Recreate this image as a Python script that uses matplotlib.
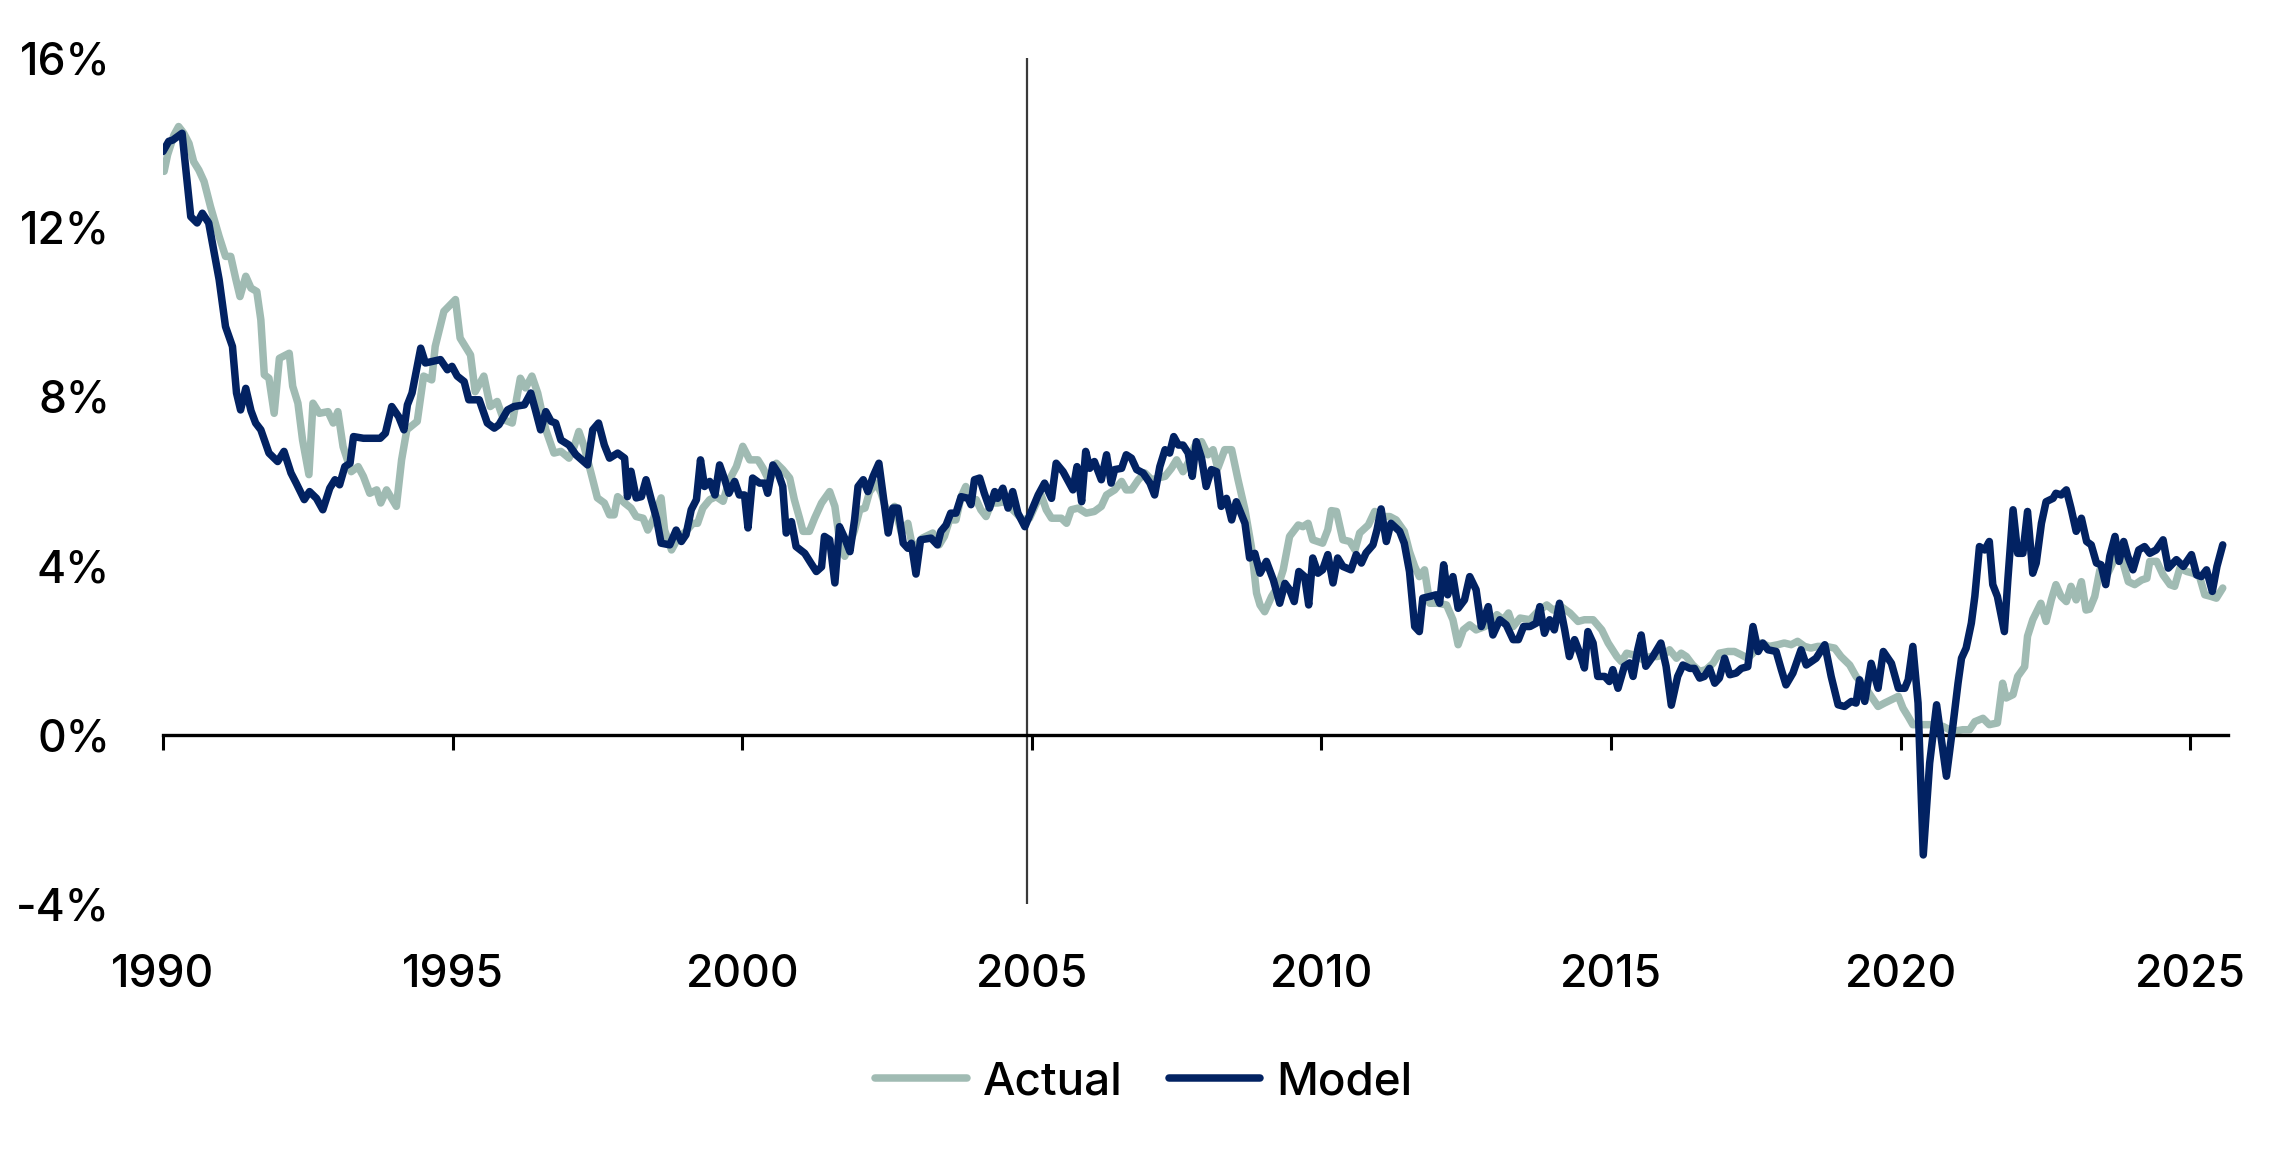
import matplotlib
matplotlib.use("Agg")
import matplotlib.pyplot as plt
import numpy as np

plt.rcParams['font.family'] = ['Inter', 'DejaVu Sans']
plt.rcParams['font.weight'] = 'medium'

# values (decimal year, percent)
model_t = [1990.00, 1990.10, 1990.17, 1990.33, 1990.48, 1990.59, 1990.68, 1990.79, 1990.97, 1991.08,
           1991.20, 1991.27, 1991.34, 1991.43, 1991.52, 1991.60, 1991.69, 1991.83, 1991.98, 1992.09,
           1992.21, 1992.30, 1992.44, 1992.53, 1992.65, 1992.76, 1992.88, 1992.97, 1993.05, 1993.14,
           1993.23, 1993.29, 1993.46, 1993.75, 1993.84, 1993.95, 1994.07, 1994.16, 1994.22, 1994.30,
           1994.39, 1994.45, 1994.53, 1994.79, 1994.91, 1994.99, 1995.08, 1995.20, 1995.28, 1995.46,
           1995.60, 1995.72, 1995.80, 1995.95, 1996.06, 1996.24, 1996.35, 1996.43, 1996.52, 1996.61,
           1996.70, 1996.78, 1996.87, 1997.01, 1997.13, 1997.33, 1997.42, 1997.52, 1997.62, 1997.71,
           1997.85, 1997.97, 1998.02, 1998.08, 1998.17, 1998.26, 1998.34, 1998.43, 1998.52, 1998.60,
           1998.75, 1998.86, 1998.95, 1999.03, 1999.12, 1999.21, 1999.28, 1999.35, 1999.44, 1999.53,
           1999.61, 1999.70, 1999.77, 1999.87, 1999.95, 2000.04, 2000.10, 2000.18, 2000.30, 2000.39,
           2000.44, 2000.53, 2000.62, 2000.70, 2000.76, 2000.85, 2000.93, 2001.08, 2001.19, 2001.28,
           2001.37, 2001.42, 2001.51, 2001.60, 2001.68, 2001.77, 2001.86, 2001.94, 2002.00, 2002.09,
           2002.17, 2002.26, 2002.36, 2002.52, 2002.60, 2002.69, 2002.78, 2002.86, 2002.92, 2003.00,
           2003.08, 2003.26, 2003.37, 2003.43, 2003.52, 2003.60, 2003.69, 2003.78, 2003.90, 2003.95,
           2004.01, 2004.10, 2004.18, 2004.27, 2004.36, 2004.41, 2004.50, 2004.59, 2004.67, 2004.76,
           2004.88, 2004.99, 2005.11, 2005.22, 2005.34, 2005.42, 2005.54, 2005.63, 2005.71, 2005.78,
           2005.86, 2005.93, 2006.00, 2006.08, 2006.20, 2006.29, 2006.37, 2006.43, 2006.55, 2006.63,
           2006.72, 2006.81, 2006.92, 2007.04, 2007.12, 2007.21, 2007.30, 2007.38, 2007.45, 2007.53,
           2007.61, 2007.70, 2007.77, 2007.84, 2007.93, 2008.01, 2008.10, 2008.19, 2008.27, 2008.36,
           2008.45, 2008.53, 2008.68, 2008.76, 2008.85, 2008.94, 2009.05, 2009.17, 2009.28, 2009.37,
           2009.45, 2009.53, 2009.61, 2009.71, 2009.78, 2009.85, 2009.94, 2010.02, 2010.11, 2010.20,
           2010.28, 2010.37, 2010.51, 2010.60, 2010.69, 2010.77, 2010.89, 2010.96, 2011.03, 2011.12,
           2011.20, 2011.35, 2011.43, 2011.52, 2011.61, 2011.69, 2011.75, 2011.87, 2011.98, 2012.04,
           2012.11, 2012.18, 2012.27, 2012.36, 2012.47, 2012.56, 2012.67, 2012.76, 2012.88, 2012.96,
           2013.08, 2013.19, 2013.31, 2013.40, 2013.49, 2013.60, 2013.71, 2013.77, 2013.85, 2013.94,
           2014.02, 2014.11, 2014.20, 2014.28, 2014.37, 2014.46, 2014.54, 2014.60, 2014.69, 2014.77,
           2014.89, 2014.97, 2015.03, 2015.12, 2015.23, 2015.32, 2015.38, 2015.46, 2015.52, 2015.60,
           2015.72, 2015.86, 2015.95, 2016.04, 2016.15, 2016.24, 2016.36, 2016.44, 2016.53, 2016.61,
           2016.70, 2016.79, 2016.87, 2016.96, 2017.05, 2017.16, 2017.25, 2017.36, 2017.45, 2017.54,
           2017.62, 2017.71, 2017.85, 2017.94, 2018.02, 2018.14, 2018.28, 2018.37, 2018.54, 2018.69,
           2018.80, 2018.92, 2019.03, 2019.15, 2019.23, 2019.29, 2019.38, 2019.49, 2019.61, 2019.70,
           2019.84, 2019.96, 2020.07, 2020.13, 2020.21, 2020.30, 2020.39, 2020.50, 2020.62, 2020.79,
           2020.90, 2020.99, 2021.05, 2021.13, 2021.22, 2021.28, 2021.36, 2021.45, 2021.53, 2021.59,
           2021.67, 2021.79, 2021.85, 2021.94, 2022.02, 2022.11, 2022.19, 2022.28, 2022.34, 2022.43,
           2022.51, 2022.63, 2022.68, 2022.77, 2022.86, 2022.94, 2023.03, 2023.12, 2023.21, 2023.29,
           2023.38, 2023.46, 2023.54, 2023.61, 2023.70, 2023.77, 2023.85, 2023.92, 2024.01, 2024.11,
           2024.21, 2024.30, 2024.41, 2024.53, 2024.62, 2024.76, 2024.88, 2025.02, 2025.11, 2025.19,
           2025.28, 2025.38, 2025.46, 2025.56]
model_v = [13.79, 14.03, 14.06, 14.22, 12.25, 12.10, 12.33, 12.10, 10.76, 9.65,
           9.18, 8.08, 7.68, 8.19, 7.66, 7.37, 7.21, 6.66, 6.46, 6.70,
           6.19, 5.95, 5.56, 5.75, 5.59, 5.32, 5.83, 6.03, 5.91, 6.34,
           6.42, 7.05, 7.01, 7.01, 7.13, 7.76, 7.52, 7.21, 7.80, 8.08,
           8.71, 9.14, 8.79, 8.87, 8.63, 8.71, 8.48, 8.35, 7.92, 7.92,
           7.37, 7.25, 7.33, 7.68, 7.76, 7.80, 8.08, 7.68, 7.21, 7.64,
           7.41, 7.37, 6.97, 6.85, 6.62, 6.38, 7.21, 7.37, 6.85, 6.54,
           6.66, 6.54, 5.63, 6.23, 5.60, 5.63, 6.03, 5.56, 5.12, 4.53,
           4.49, 4.84, 4.57, 4.73, 5.32, 5.56, 6.50, 5.87, 5.99, 5.67,
           6.38, 6.03, 5.71, 5.99, 5.67, 5.67, 4.89, 6.07, 5.95, 5.95,
           5.71, 6.38, 6.19, 5.87, 4.77, 5.04, 4.45, 4.29, 4.05, 3.86,
           3.97, 4.69, 4.61, 3.59, 4.92, 4.65, 4.33, 5.08, 5.87, 6.03,
           5.75, 6.11, 6.42, 4.77, 5.36, 5.36, 4.53, 4.41, 4.53, 3.80,
           4.61, 4.65, 4.49, 4.81, 4.96, 5.24, 5.24, 5.63, 5.59, 5.44,
           6.03, 6.07, 5.71, 5.36, 5.75, 5.59, 5.83, 5.36, 5.75, 5.24,
           4.92, 5.28, 5.67, 5.95, 5.59, 6.42, 6.22, 5.99, 5.79, 6.34,
           5.51, 6.70, 6.30, 6.46, 6.03, 6.62, 5.95, 6.27, 6.30, 6.62,
           6.54, 6.27, 6.19, 5.95, 5.67, 6.34, 6.74, 6.66, 7.05, 6.85,
           6.85, 6.66, 6.11, 6.93, 6.54, 5.87, 6.27, 6.22, 5.40, 5.59,
           5.08, 5.51, 5.00, 4.18, 4.29, 3.82, 4.10, 3.66, 3.11, 3.58,
           3.43, 3.15, 3.86, 3.74, 3.07, 4.18, 3.82, 3.90, 4.26, 3.59,
           4.18, 3.98, 3.90, 4.26, 4.06, 4.30, 4.49, 4.85, 5.34, 4.57,
           5.00, 4.81, 4.53, 3.86, 2.56, 2.44, 3.23, 3.27, 3.31, 3.11,
           4.02, 3.31, 3.74, 2.99, 3.19, 3.74, 3.43, 2.56, 3.03, 2.36,
           2.72, 2.60, 2.25, 2.25, 2.56, 2.56, 2.64, 3.03, 2.40, 2.72,
           2.48, 3.11, 2.48, 1.85, 2.25, 1.93, 1.58, 2.44, 2.17, 1.38,
           1.38, 1.26, 1.54, 1.10, 1.62, 1.70, 1.38, 2.01, 2.36, 1.62,
           1.85, 2.17, 1.62, 0.70, 1.38, 1.65, 1.57, 1.57, 1.34, 1.38,
           1.57, 1.22, 1.34, 1.81, 1.42, 1.46, 1.57, 1.61, 2.56, 1.97,
           2.17, 2.01, 1.97, 1.54, 1.18, 1.46, 2.01, 1.65, 1.81, 2.13,
           1.38, 0.71, 0.67, 0.79, 0.75, 1.30, 0.79, 1.69, 1.10, 1.97,
           1.69, 1.10, 1.10, 1.30, 2.09, 0.75, -2.84, -0.67, 0.71, -0.98,
           0.20, 1.22, 1.81, 2.05, 2.64, 3.27, 4.45, 4.37, 4.57, 3.55,
           3.27, 2.44, 3.66, 5.32, 4.29, 4.29, 5.28, 3.82, 4.06, 5.00,
           5.51, 5.59, 5.71, 5.67, 5.79, 5.36, 4.81, 5.12, 4.57, 4.49,
           4.06, 4.02, 3.55, 4.22, 4.69, 4.10, 4.57, 4.22, 3.90, 4.37,
           4.45, 4.29, 4.37, 4.61, 3.94, 4.14, 3.98, 4.26, 3.78, 3.74,
           3.90, 3.39, 3.98, 4.49]

actual_t = [1990.02, 1990.08, 1990.19, 1990.27, 1990.36, 1990.45, 1990.53, 1990.62, 1990.71, 1990.82,
            1990.97, 1991.08, 1991.17, 1991.26, 1991.33, 1991.43, 1991.52, 1991.62, 1991.69, 1991.75,
            1991.83, 1991.92, 1992.01, 1992.18, 1992.24, 1992.33, 1992.41, 1992.52, 1992.59, 1992.70,
            1992.85, 1992.94, 1993.02, 1993.11, 1993.25, 1993.37, 1993.46, 1993.57, 1993.69, 1993.76,
            1993.86, 1994.03, 1994.12, 1994.21, 1994.39, 1994.50, 1994.64, 1994.70, 1994.85, 1995.05,
            1995.13, 1995.31, 1995.39, 1995.54, 1995.65, 1995.77, 1995.88, 1996.03, 1996.17, 1996.26,
            1996.37, 1996.47, 1996.61, 1996.75, 1996.87, 1997.01, 1997.10, 1997.18, 1997.27, 1997.39,
            1997.50, 1997.62, 1997.71, 1997.79, 1997.85, 1997.97, 1998.08, 1998.17, 1998.29, 1998.37,
            1998.46, 1998.60, 1998.66, 1998.78, 1998.89, 1999.03, 1999.15, 1999.23, 1999.32, 1999.44,
            1999.55, 1999.67, 1999.78, 1999.90, 2000.01, 2000.13, 2000.27, 2000.36, 2000.47, 2000.59,
            2000.70, 2000.82, 2000.90, 2000.99, 2001.05, 2001.16, 2001.25, 2001.37, 2001.51, 2001.60,
            2001.68, 2001.77, 2001.86, 2001.94, 2002.03, 2002.12, 2002.20, 2002.32, 2002.40, 2002.52,
            2002.63, 2002.75, 2002.86, 2002.95, 2003.11, 2003.29, 2003.40, 2003.49, 2003.58, 2003.69,
            2003.78, 2003.86, 2003.92, 2004.04, 2004.12, 2004.21, 2004.30, 2004.41, 2004.53, 2004.61,
            2004.73, 2004.84, 2004.96, 2005.08, 2005.16, 2005.25, 2005.34, 2005.51, 2005.60, 2005.68,
            2005.80, 2005.94, 2006.08, 2006.20, 2006.29, 2006.43, 2006.55, 2006.63, 2006.72, 2006.84,
            2006.95, 2007.07, 2007.18, 2007.30, 2007.41, 2007.50, 2007.61, 2007.73, 2007.81, 2007.93,
            2008.04, 2008.13, 2008.21, 2008.33, 2008.45, 2008.56, 2008.68, 2008.79, 2008.88, 2008.94,
            2009.02, 2009.14, 2009.25, 2009.34, 2009.45, 2009.60, 2009.68, 2009.77, 2009.85, 2010.02,
            2010.11, 2010.17, 2010.26, 2010.37, 2010.49, 2010.58, 2010.66, 2010.81, 2010.92, 2011.03,
            2011.18, 2011.29, 2011.43, 2011.52, 2011.61, 2011.69, 2011.78, 2011.87, 2012.01, 2012.16,
            2012.27, 2012.36, 2012.45, 2012.56, 2012.67, 2012.82, 2012.91, 2013.03, 2013.14, 2013.23,
            2013.31, 2013.43, 2013.60, 2013.74, 2013.89, 2014.00, 2014.14, 2014.29, 2014.43, 2014.54,
            2014.69, 2014.84, 2014.95, 2015.10, 2015.18, 2015.27, 2015.38, 2015.56, 2015.67, 2015.79,
            2015.91, 2016.01, 2016.13, 2016.21, 2016.30, 2016.41, 2016.53, 2016.64, 2016.76, 2016.87,
            2017.02, 2017.13, 2017.25, 2017.36, 2017.48, 2017.59, 2017.73, 2017.88, 2017.99, 2018.11,
            2018.22, 2018.34, 2018.45, 2018.57, 2018.71, 2018.86, 2018.97, 2019.12, 2019.23, 2019.38,
            2019.49, 2019.61, 2019.72, 2019.84, 2019.96, 2020.04, 2020.13, 2020.21, 2020.39, 2020.56,
            2020.73, 2020.90, 2021.07, 2021.19, 2021.28, 2021.42, 2021.53, 2021.67, 2021.76, 2021.82,
            2021.94, 2022.02, 2022.14, 2022.19, 2022.28, 2022.42, 2022.51, 2022.60, 2022.68, 2022.77,
            2022.86, 2022.94, 2023.03, 2023.12, 2023.20, 2023.26, 2023.35, 2023.44, 2023.55, 2023.66,
            2023.76, 2023.84, 2023.93, 2024.04, 2024.16, 2024.25, 2024.30, 2024.42, 2024.53, 2024.65,
            2024.73, 2024.82, 2024.94, 2025.05, 2025.16, 2025.25, 2025.36, 2025.45, 2025.56]
actual_v = [13.32, 13.71, 14.18, 14.38, 14.22, 13.98, 13.55, 13.35, 13.08, 12.49,
            11.78, 11.31, 11.31, 10.76, 10.36, 10.84, 10.56, 10.48, 9.81, 8.51,
            8.43, 7.60, 8.90, 9.02, 8.24, 7.84, 6.97, 6.15, 7.84, 7.60,
            7.64, 7.37, 7.64, 6.81, 6.22, 6.34, 6.11, 5.71, 5.79, 5.48,
            5.79, 5.40, 6.50, 7.21, 7.41, 8.48, 8.39, 9.18, 10.01, 10.29,
            9.38, 8.98, 8.11, 8.48, 7.76, 7.88, 7.45, 7.37, 8.43, 8.20,
            8.48, 8.08, 7.21, 6.66, 6.70, 6.54, 6.82, 7.17, 6.82, 6.19,
            5.60, 5.48, 5.20, 5.20, 5.63, 5.48, 5.36, 5.16, 5.12, 4.84,
            5.08, 5.60, 4.84, 4.37, 4.65, 4.81, 5.00, 5.00, 5.36, 5.56,
            5.63, 5.52, 6.03, 6.34, 6.82, 6.50, 6.50, 6.30, 5.99, 6.42,
            6.27, 6.07, 5.56, 5.12, 4.81, 4.81, 5.12, 5.48, 5.75, 5.40,
            4.61, 4.22, 4.53, 4.84, 5.32, 5.36, 5.75, 5.95, 5.71, 5.16,
            5.40, 4.77, 5.00, 4.37, 4.65, 4.77, 4.49, 4.69, 5.08, 5.08,
            5.63, 5.87, 5.56, 5.56, 5.32, 5.16, 5.48, 5.48, 5.51, 5.40,
            5.24, 5.08, 5.12, 5.48, 5.67, 5.32, 5.12, 5.12, 5.00, 5.32,
            5.36, 5.24, 5.28, 5.40, 5.67, 5.79, 5.99, 5.79, 5.79, 6.03,
            6.19, 6.03, 6.07, 6.11, 6.30, 6.50, 6.22, 6.50, 6.82, 6.93,
            6.62, 6.74, 6.30, 6.74, 6.74, 6.03, 5.32, 4.45, 3.35, 3.07,
            2.91, 3.27, 3.51, 3.90, 4.69, 4.96, 4.92, 5.00, 4.61, 4.53,
            4.85, 5.30, 5.28, 4.61, 4.57, 4.37, 4.77, 4.96, 5.28, 5.16,
            5.16, 5.08, 4.81, 4.33, 3.98, 3.74, 3.90, 3.11, 3.11, 3.07,
            2.72, 2.13, 2.48, 2.60, 2.48, 2.56, 2.64, 2.84, 2.72, 2.88,
            2.56, 2.76, 2.72, 2.92, 3.07, 2.95, 3.03, 2.88, 2.68, 2.72,
            2.72, 2.48, 2.17, 1.85, 1.73, 1.93, 1.89, 1.77, 1.85, 1.85,
            1.89, 2.01, 1.81, 1.93, 1.85, 1.65, 1.50, 1.54, 1.69, 1.93,
            1.97, 1.97, 1.89, 1.81, 1.97, 2.17, 2.09, 2.13, 2.17, 2.13,
            2.21, 2.09, 2.05, 2.09, 2.09, 2.05, 1.85, 1.65, 1.38, 1.14,
            0.91, 0.67, 0.75, 0.83, 0.91, 0.63, 0.43, 0.24, 0.24, 0.24,
            0.20, 0.08, 0.12, 0.12, 0.31, 0.39, 0.24, 0.28, 1.22, 0.87,
            0.95, 1.38, 1.61, 2.33, 2.72, 3.11, 2.68, 3.19, 3.55, 3.27,
            3.15, 3.51, 3.19, 3.62, 2.95, 2.97, 3.27, 3.90, 3.74, 4.06,
            4.26, 4.06, 3.62, 3.55, 3.66, 3.70, 4.10, 4.10, 3.78, 3.55,
            3.51, 3.94, 3.86, 3.82, 3.74, 3.31, 3.27, 3.23, 3.47]

x_ticks = [1990, 1995, 2000, 2005, 2010, 2015, 2020, 2025]
y_ticks = [-4, 0, 4, 8, 12, 16]
split_year = 2004.92

fig = plt.figure(figsize=(11.395, 5.775), dpi=200)
ax = fig.add_axes([0.0715, 0.2173, 0.9061, 0.7325])

ax.axvline(split_year, color='#3a3a3a', lw=0.8, zorder=1)
ax.plot(actual_t, actual_v, color='#a0bbb3', lw=2.7, solid_joinstyle='round',
        solid_capstyle='round', label='Actual', zorder=2)
ax.plot(model_t, model_v, color='#022262', lw=2.7, solid_joinstyle='round',
        solid_capstyle='round', label='Model', zorder=3)

ax.set_xlim(1990, 2025.65)
ax.set_ylim(-4, 16)

for s in ['top', 'right', 'left']:
    ax.spines[s].set_visible(False)
ax.spines['bottom'].set_position(('data', 0))
ax.spines['bottom'].set_linewidth(1.2)

ax.set_xticks(x_ticks)
ax.tick_params(axis='x', direction='out', length=5.4, width=1.1, labelbottom=False)
ax.set_yticks(y_ticks)
ax.set_yticklabels([f'{v}%' for v in y_ticks])
ax.tick_params(axis='y', length=0, pad=19, labelsize=16)

# year labels sit at the bottom of the plot, not on the zero line
sec = ax.secondary_xaxis('bottom')
sec.set_xticks(x_ticks)
sec.set_xticklabels([str(v) for v in x_ticks])
sec.spines['bottom'].set_visible(False)
sec.tick_params(length=0, pad=18, labelsize=16)

fig.legend(loc='center', bbox_to_anchor=(0.502, 0.0632), ncol=2, frameon=False,
           fontsize=16.5, handlelength=2.0, handletextpad=0.35, columnspacing=1.0)

fig.savefig('out.png', dpi=200)
